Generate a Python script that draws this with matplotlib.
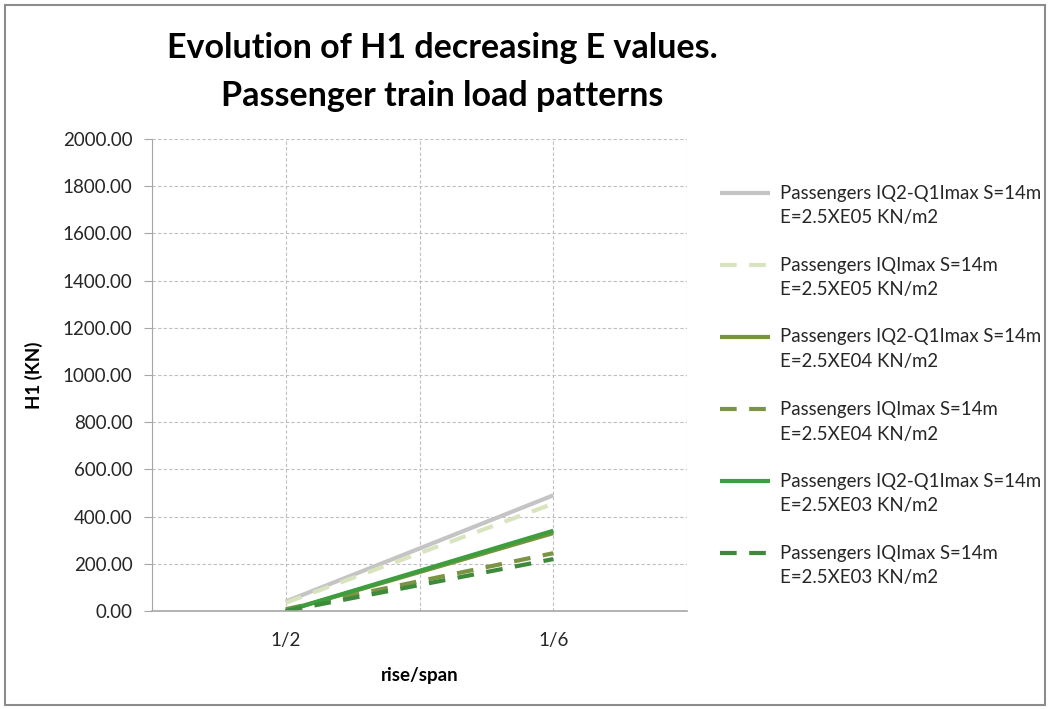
import matplotlib
matplotlib.use("Agg")
import matplotlib.pyplot as plt
from matplotlib.patches import Rectangle
from matplotlib.lines import Line2D

# ---- data ----
categories = ["1/2", "1/6"]
cat_pos = [1, 3]
e05_iq2q1 = [40, 490]
e05_iqmax = [35, 455]
e04_iq2q1 = [0, 330]
e04_iqmax = [8, 245]
e03_iq2q1 = [0, 340]
e03_iqmax = [0, 220]

labels = [
    "Passengers IQ2-Q1Imax S=14m\nE=2.5XE05 KN/m2",
    "Passengers IQImax S=14m\nE=2.5XE05 KN/m2",
    "Passengers IQ2-Q1Imax S=14m\nE=2.5XE04 KN/m2",
    "Passengers IQImax S=14m\nE=2.5XE04 KN/m2",
    "Passengers IQ2-Q1Imax S=14m\nE=2.5XE03 KN/m2",
    "Passengers IQImax S=14m\nE=2.5XE03 KN/m2",
]
series = [e05_iq2q1, e05_iqmax, e04_iq2q1, e04_iqmax, e03_iq2q1, e03_iqmax]
colors = ["#C4C4C4", "#D7E4BD", "#77933C", "#7A9444", "#3C9E3C", "#3D8A3A"]
styles = ["-", (0, (4, 3)), "-", (0, (4, 3)), "-", (0, (4, 3))]
yticks = [0, 200, 400, 600, 800, 1000, 1200, 1400, 1600, 1800, 2000]

plt.rcParams['font.family'] = ['Lato', 'DejaVu Sans']

W, H = 1050, 709
fig = plt.figure(figsize=(10.5, 7.09), dpi=100)
fig.patches.append(Rectangle((5/W, 4/H), 1040/W, 700/H, transform=fig.transFigure,
                             fill=False, edgecolor="#8C8C8C", linewidth=1.5))
ax = fig.add_axes([152/W, 1 - 611/H, 535/W, 472/H])

for vals, c, ls, lab in zip(series, colors, styles, labels):
    ax.plot(cat_pos, vals, color=c, linestyle=ls, linewidth=3, label=lab, solid_capstyle='butt')

ax.set_xlim(0, 4)
ax.set_ylim(0, 2000)
ax.set_yticks(yticks)
ax.set_yticklabels([f"{v:.2f}" for v in yticks], fontsize=13.5, color="#262626")
ax.set_xticks(cat_pos)
ax.set_xticklabels(categories, fontsize=13.5, color="#262626")
ax.set_xticks([0, 2, 4], minor=True)
ax.tick_params(axis='x', which='both', length=0, pad=15)
ax.tick_params(axis='y', length=6, width=0.8, color="#A6A6A6", pad=8)
gstyle = dict(linestyle=(0, (3, 2)), color="#BFBFBF", linewidth=0.8)
ax.grid(True, which='both', axis='x', **gstyle)
ax.grid(True, which='major', axis='y', **gstyle)
ax.set_axisbelow(True)
for s in ['top', 'right']:
    ax.spines[s].set_visible(False)
ax.spines['left'].set_color("#A6A6A6")
ax.spines['left'].set_linewidth(0.8)
ax.spines['bottom'].set_color("#A6A6A6")
ax.spines['bottom'].set_linewidth(1.2)

ax.set_ylabel("H1 (KN)", fontsize=13.5, fontweight='bold', labelpad=14)
ax.set_xlabel("rise/span", fontsize=13.5, fontweight='bold', labelpad=13)

fig.text(442/W, 1 - 72/H, "Evolution of H1 decreasing E values.\nPassenger train load patterns",
         ha='center', va='center', fontsize=24.5, fontweight='bold', linespacing=1.6)

# legend (Excel-style: handle aligned with first text line)
for i, (lab, c, ls) in enumerate(zip(labels, colors, styles)):
    y1 = 193 + 72 * i
    fig.add_artist(Line2D([720/W, 770/W], [1 - y1/H, 1 - y1/H], transform=fig.transFigure,
                          color=c, linestyle=ls, linewidth=3, solid_capstyle='butt'))
    for j, line in enumerate(lab.split("\n")):
        fig.text(780/W, 1 - (y1 + 25 * j)/H, line, ha='left', va='center',
                 fontsize=13.4, color="#262626")

fig.savefig("out.png", dpi=100)
